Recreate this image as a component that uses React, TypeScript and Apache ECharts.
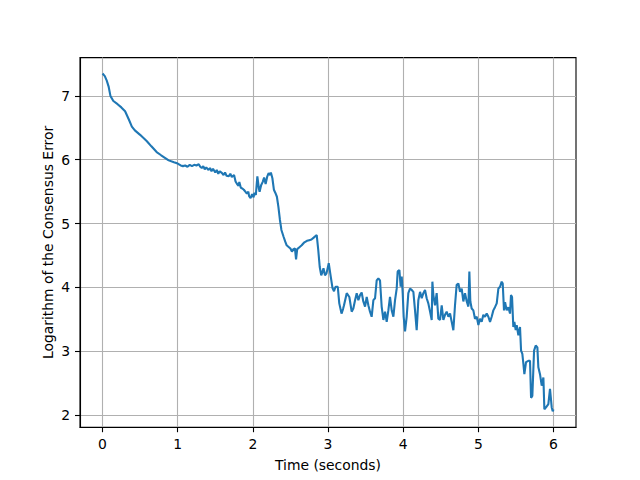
import React, { useEffect, useRef } from "react";
import * as echarts from "echarts";

const times = [
  0, 0.03, 0.056, 0.08, 0.105, 0.144, 0.2, 0.25, 0.3, 0.35, 0.39, 0.43, 0.5, 0.59, 0.65, 0.72, 0.78, 0.83, 0.88, 0.95,
  1.0, 1.04, 1.07, 1.1, 1.13, 1.16, 1.19, 1.22, 1.25, 1.28, 1.3, 1.32, 1.34, 1.36, 1.38, 1.41, 1.43, 1.45, 1.47, 1.5,
  1.52, 1.54, 1.56, 1.59, 1.61, 1.63, 1.65, 1.68, 1.7, 1.72, 1.75, 1.77, 1.79, 1.81, 1.82, 1.84, 1.86, 1.88, 1.9, 1.92,
  1.94, 1.95, 1.97, 1.99, 2.01, 2.02, 2.04, 2.06, 2.08, 2.09, 2.11, 2.13, 2.15, 2.17, 2.19, 2.21, 2.23, 2.24, 2.26, 2.28,
  2.3, 2.32, 2.34, 2.36, 2.38, 2.41, 2.43, 2.45, 2.48, 2.5, 2.52, 2.54, 2.56, 2.575, 2.59, 2.62, 2.65, 2.68, 2.72, 2.75,
  2.78, 2.81, 2.85, 2.87, 2.89, 2.91, 2.92, 2.94, 2.96, 2.98, 3.01, 3.03, 3.06, 3.08, 3.1, 3.13, 3.15, 3.18, 3.2, 3.213,
  3.249, 3.284, 3.315, 3.337, 3.36, 3.382, 3.404, 3.426, 3.448, 3.47, 3.493, 3.515, 3.537, 3.559, 3.581, 3.604, 3.626, 3.648, 3.67, 3.692,
  3.714, 3.737, 3.759, 3.781, 3.803, 3.825, 3.848, 3.87, 3.892, 3.914, 3.927, 3.95, 3.967, 3.981, 3.994, 4.007, 4.025, 4.047, 4.069, 4.091,
  4.114, 4.136, 4.158, 4.18, 4.202, 4.225, 4.247, 4.269, 4.291, 4.313, 4.335, 4.358, 4.38, 4.389, 4.402, 4.424, 4.446, 4.468, 4.491, 4.513,
  4.535, 4.557, 4.579, 4.602, 4.624, 4.646, 4.668, 4.69, 4.712, 4.735, 4.757, 4.779, 4.801, 4.823, 4.846, 4.868, 4.881, 4.894, 4.912, 4.934,
  4.956, 4.979, 5.001, 5.023, 5.045, 5.067, 5.089, 5.112, 5.134, 5.156, 5.178, 5.2, 5.222, 5.245, 5.267, 5.289, 5.311, 5.325, 5.342, 5.356,
  5.378, 5.4, 5.422, 5.435, 5.449, 5.466, 5.48, 5.498, 5.511, 5.533, 5.555, 5.569, 5.586, 5.6, 5.613, 5.635, 5.666, 5.688, 5.702, 5.719,
  5.742, 5.764, 5.786, 5.799, 5.821, 5.844, 5.866, 5.879, 5.901, 5.932, 5.954, 5.977, 5.99, 6.0,
];

const values = [
  7.35, 7.31, 7.24, 7.15, 7.0, 6.92, 6.87, 6.82, 6.76, 6.63, 6.52, 6.46, 6.39, 6.29, 6.21, 6.12, 6.07, 6.03, 5.99, 5.96,
  5.94, 5.91, 5.9, 5.91, 5.89, 5.92, 5.9, 5.92, 5.91, 5.93, 5.89, 5.87, 5.9, 5.85, 5.88, 5.84, 5.87, 5.82, 5.86, 5.8,
  5.84, 5.78, 5.82, 5.79, 5.76, 5.8, 5.75, 5.74, 5.78, 5.73, 5.76, 5.66, 5.62, 5.59, 5.65, 5.56, 5.55, 5.53, 5.5, 5.47,
  5.5, 5.43, 5.4, 5.46, 5.41, 5.48, 5.45, 5.74, 5.55, 5.5, 5.6, 5.65, 5.72, 5.62, 5.73, 5.79, 5.76, 5.8, 5.71, 5.53,
  5.48, 5.42, 5.26, 5.06, 4.9, 4.79, 4.72, 4.66, 4.63, 4.61, 4.56, 4.6, 4.61, 4.44, 4.6, 4.63, 4.66, 4.7, 4.73, 4.74,
  4.75, 4.78, 4.82, 4.59, 4.32, 4.19, 4.22, 4.3, 4.19, 4.22, 4.38, 4.22, 3.99, 3.94, 4.01, 4.01, 3.75, 3.59, 3.66, 3.72,
  3.91, 3.85, 3.62, 3.67, 3.8, 3.91, 3.8, 3.88, 3.92, 3.78, 3.7, 3.85, 3.72, 3.62, 3.54, 3.8, 3.83, 4.11, 4.14, 4.11,
  3.7, 3.49, 3.62, 3.46, 3.64, 3.85, 3.64, 3.54, 3.8, 3.98, 4.25, 4.27, 4.01, 4.17, 3.91, 3.54, 3.31, 3.54, 3.91, 3.98,
  3.96, 3.93, 3.64, 3.33, 3.8, 3.93, 3.83, 3.91, 3.96, 3.83, 3.75, 3.62, 3.49, 4.09, 3.88, 3.72, 3.91, 3.51, 3.49, 3.72,
  3.49, 3.57, 3.62, 3.54, 3.59, 3.46, 3.33, 3.72, 4.04, 4.06, 3.93, 3.98, 3.78, 3.91, 3.78, 3.7, 4.25, 3.78, 3.67, 3.64,
  3.51, 3.54, 3.41, 3.51, 3.46, 3.57, 3.54, 3.59, 3.54, 3.46, 3.54, 3.64, 3.69, 3.75, 3.98, 4.01, 4.09, 4.06, 3.64, 3.77,
  3.64, 3.69, 3.59, 3.88, 3.85, 3.38, 3.46, 3.33, 3.41, 3.25, 3.38, 3.01, 2.96, 2.8, 2.64, 2.83, 2.85, 2.85, 2.27, 2.3,
  3.01, 3.09, 3.06, 2.75, 2.64, 2.46, 2.59, 2.09, 2.12, 2.17, 2.41, 2.12, 2.06, 2.09,
];

const xTicks = [0, 1, 2, 3, 4, 5, 6];
const yTicks = [2, 3, 4, 5, 6, 7];

const FONT = "DejaVu Sans";

export default function App() {
  const ref = useRef<HTMLDivElement>(null);
  useEffect(() => {
    document.body.style.margin = "0";
    const chart = echarts.init(ref.current!, null, { renderer: "svg" });
    const axisCommon = {
      type: "value",
      nameLocation: "middle",
      nameMoveOverlap: false,
      nameTextStyle: { fontSize: 13.9, color: "#000", fontFamily: FONT },
      axisLine: { show: true, onZero: false, lineStyle: { color: "#000", width: 1.1 } },
      axisTick: { show: true, inside: false, length: 5, lineStyle: { color: "#000", width: 1.1 } },
      splitLine: { show: true, lineStyle: { color: "#b0b0b0", width: 1.1 } },
    };
    chart.setOption({
      animation: false,
      backgroundColor: "#fff",
      grid: {
        left: 80,
        right: 64,
        top: 57.6,
        bottom: 52.8,
        show: true,
        borderColor: "#000",
        borderWidth: 1.1,
        backgroundColor: "transparent",
      },
      xAxis: {
        ...axisCommon,
        min: -0.3,
        max: 6.3,
        name: "Time (seconds)",
        nameGap: 31,
        axisTick: { ...axisCommon.axisTick, customValues: xTicks },
        axisLabel: {
          customValues: xTicks,
          color: "#000",
          fontSize: 13.9,
          fontFamily: FONT,
          margin: 10,
        },
      },
      yAxis: {
        ...axisCommon,
        min: 1.81,
        max: 7.6,
        name: "Logarithm of the Consensus Error",
        nameGap: 25,
        nameRotate: 90,
        axisTick: { ...axisCommon.axisTick, customValues: yTicks },
        axisLabel: {
          customValues: yTicks,
          color: "#000",
          fontSize: 13.9,
          fontFamily: FONT,
          margin: 10,
        },
      },
      series: [
        {
          type: "line",
          data: times.map((t, i) => [t, values[i]]),
          showSymbol: false,
          symbol: "none",
          lineStyle: { color: "#1f77b4", width: 2.1 },
          itemStyle: { color: "#1f77b4" },
        },
      ],
    });
    return () => chart.dispose();
  }, []);
  return <div ref={ref} style={{ width: 640, height: 480 }} />;
}
